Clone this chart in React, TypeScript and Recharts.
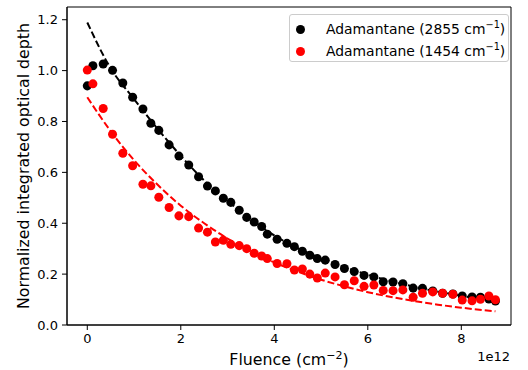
import React from 'react';
import { ComposedChart, Scatter, Line, XAxis, YAxis, Legend, ReferenceArea } from 'recharts';

// fluence in units of 1e12 cm^-2
const fluence = [
  0, 0.12, 0.34, 0.54, 0.76, 0.97, 1.19, 1.36, 1.53, 1.75, 1.96, 2.17, 2.38, 2.57, 2.74, 2.91,
  3.07, 3.25, 3.41, 3.57, 3.73, 3.85, 4.06, 4.27, 4.43, 4.6, 4.76, 4.92, 5.09, 5.3, 5.5, 5.71,
  5.92, 6.13, 6.33, 6.54, 6.75, 6.97, 7.17, 7.39, 7.6, 7.82, 8.02, 8.23, 8.41, 8.59, 8.73,
];

const band2855 = [
  0.94, 1.019, 1.026, 1.001, 0.951, 0.895, 0.849, 0.793, 0.765, 0.708, 0.664, 0.629, 0.583, 0.546,
  0.527, 0.498, 0.482, 0.451, 0.423, 0.405, 0.387, 0.357, 0.337, 0.321, 0.308, 0.29, 0.274, 0.261,
  0.255, 0.238, 0.222, 0.21, 0.195, 0.189, 0.17, 0.169, 0.162, 0.145, 0.144, 0.134, 0.125, 0.122,
  0.114, 0.11, 0.109, 0.102, 0.094,
];

const band1454 = [
  1.002, 0.948, 0.851, 0.75, 0.675, 0.626, 0.553, 0.547, 0.502, 0.462, 0.429, 0.426, 0.381, 0.365,
  0.326, 0.333, 0.317, 0.312, 0.3, 0.282, 0.271, 0.261, 0.242, 0.241, 0.216, 0.22, 0.2, 0.185,
  0.204, 0.189, 0.158, 0.174, 0.152, 0.157, 0.136, 0.135, 0.138, 0.109, 0.125, 0.13, 0.125, 0.121,
  0.098, 0.095, 0.101, 0.114, 0.099,
];

// dashed fit curves
const fitX = [0, 0.5, 1, 1.5, 2, 2.5, 3, 3.5, 4, 4.5, 5, 5.5, 6, 6.5, 7, 7.5, 8, 8.73];
const fit2855 = [
  1.189, 1.009, 0.888, 0.772, 0.665, 0.568, 0.488, 0.415, 0.352, 0.302, 0.262, 0.228, 0.198,
  0.172, 0.15, 0.131, 0.115, 0.093,
];
const fit1454 = [
  0.895, 0.762, 0.648, 0.552, 0.469, 0.4, 0.34, 0.289, 0.246, 0.21, 0.178, 0.152, 0.129, 0.11,
  0.094, 0.08, 0.068, 0.054,
];

const xTicks = [0, 2, 4, 6, 8];
const yTicks = [0, 0.2, 0.4, 0.6, 0.8, 1.0, 1.2];

const X_DOMAIN: [number, number] = [-0.434, 9.063];
const Y_DOMAIN: [number, number] = [0, 1.25];

const pts2855 = fluence.map((x, i) => ({ x, y: band2855[i] }));
const pts1454 = fluence.map((x, i) => ({ x, y: band1454[i] }));
const line2855 = fitX.map((x, i) => ({ x, y: fit2855[i] }));
const line1454 = fitX.map((x, i) => ({ x, y: fit1454[i] }));

const FONT = 'DejaVu Sans';
const tickStyle = { fontSize: 13, fill: '#000', fontFamily: FONT };

const XLabel = (props: any) => {
  const vb = props.viewBox || { x: 67, y: 325, width: 444 };
  const cx = vb.x + vb.width / 2;
  return (
    <g>
      <text x={cx} y={365} textAnchor="middle" fontSize={15.8} fill="#000" fontFamily={FONT}>
        Fluence (cm<tspan dy={-6} fontSize={11}>−2</tspan>
        <tspan dy={6}>)</tspan>
      </text>
      <text x={vb.x + vb.width - 1} y={361} textAnchor="end" fontSize={13} fill="#000" fontFamily={FONT}>
        1e12
      </text>
    </g>
  );
};

const YLabel = (props: any) => {
  const vb = props.viewBox || { y: 7, height: 318 };
  const cy = vb.y + vb.height / 2;
  return (
    <text
      x={29}
      y={cy}
      transform={`rotate(-90, 29, ${cy})`}
      textAnchor="middle"
      fontSize={15.8}
      fill="#000"
      fontFamily={FONT}
    >
      Normalized integrated optical depth
    </text>
  );
};

const legendItems = [
  { color: '#000000', label: 'Adamantane (2855 cm', sup: '−1' },
  { color: '#ff0000', label: 'Adamantane (1454 cm', sup: '−1' },
];

const LegendBox = () => (
  <div
    style={{
      position: 'relative',
      width: 218,
      height: 46,
      border: '1px solid #cccccc',
      borderRadius: 3,
      background: 'rgba(255,255,255,0.8)',
      fontFamily: FONT,
      fontSize: 13.9,
      color: '#000',
    }}
  >
    {legendItems.map((it, i) => (
      <div
        key={i}
        style={{
          position: 'absolute',
          left: 0,
          top: 4 + i * 22,
          height: 20,
          display: 'flex',
          alignItems: 'center',
          whiteSpace: 'nowrap',
        }}
      >
        <span
          style={{
            position: 'absolute',
            left: 6,
            width: 9,
            height: 9,
            borderRadius: '50%',
            background: it.color,
          }}
        />
        <span style={{ marginLeft: 36, lineHeight: '20px' }}>
          {it.label}
          <sup style={{ fontSize: '0.7em', lineHeight: 0 }}>{it.sup}</sup>)
        </span>
      </div>
    ))}
  </div>
);

const App: React.FC = () => {
  return (
    <div style={{ position: 'absolute', left: 0, top: 0, width: 528, height: 370, background: '#fff' }}>
      <ComposedChart
        width={528}
        height={370}
        margin={{ top: 7, right: 17, left: 0, bottom: 0 }}
        style={{ fontFamily: FONT }}
      >
        <XAxis
          dataKey="x"
          type="number"
          domain={X_DOMAIN}
          allowDataOverflow
          ticks={xTicks}
          tickFormatter={(v: number) => String(v)}
          tick={tickStyle}
          tickSize={5}
          tickMargin={4}
          height={45}
          axisLine={{ stroke: '#000', strokeWidth: 1 }}
          tickLine={{ stroke: '#000', strokeWidth: 1 }}
          label={<XLabel />}
        />
        <YAxis
          dataKey="y"
          type="number"
          domain={Y_DOMAIN}
          allowDataOverflow
          ticks={yTicks}
          tickFormatter={(v: number) => v.toFixed(1)}
          tick={tickStyle}
          tickSize={5}
          tickMargin={4}
          width={67}
          axisLine={{ stroke: '#000', strokeWidth: 1 }}
          tickLine={{ stroke: '#000', strokeWidth: 1 }}
          label={<YLabel />}
        />
        <Scatter name="2855" data={pts2855} dataKey="y" fill="#000000" isAnimationActive={false} />
        <Scatter name="1454" data={pts1454} dataKey="y" fill="#ff0000" isAnimationActive={false} />
        <Line
          data={line2855}
          dataKey="y"
          type="monotone"
          stroke="#000000"
          strokeWidth={2}
          strokeDasharray="7 3"
          dot={false}
          activeDot={false}
          legendType="none"
          isAnimationActive={false}
        />
        <Line
          data={line1454}
          dataKey="y"
          type="monotone"
          stroke="#ff0000"
          strokeWidth={2}
          strokeDasharray="7 3"
          dot={false}
          activeDot={false}
          legendType="none"
          isAnimationActive={false}
        />
        {/* frame: top and right spines */}
        <ReferenceArea
          x1={X_DOMAIN[0]}
          x2={X_DOMAIN[1]}
          y1={Y_DOMAIN[0]}
          y2={Y_DOMAIN[1]}
          fill="none"
          fillOpacity={0}
          stroke="#000"
          strokeWidth={1}
          ifOverflow="visible"
        />
        <Legend
          layout="horizontal"
          verticalAlign="middle"
          align="center"
          content={<LegendBox />}
          wrapperStyle={{ left: 289, top: 14, width: 220, height: 48 }}
        />
      </ComposedChart>
    </div>
  );
};

export default App;
